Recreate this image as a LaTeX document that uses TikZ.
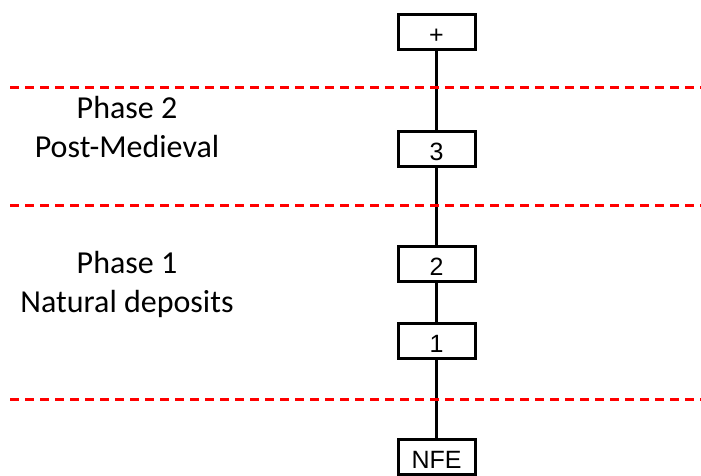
\documentclass[tikz,border=0pt]{standalone}
\usepackage{fontspec}
\setmainfont{Carlito}
\newfontfamily\arialfont{Liberation Sans}
\usepackage{tikz}
\usetikzlibrary{positioning}

\begin{document}
\begin{tikzpicture}[x=1pt,y=-1pt,
  unit/.style={draw,line width=3pt,minimum width=77pt,minimum height=35pt,inner sep=0pt,
    text height=23pt,text depth=0pt,font=\arialfont\fontsize{25}{28}\selectfont},
  link/.style={line width=3pt},
  phase/.style={font=\fontsize{32}{38}\selectfont,anchor=base},
  boundary/.style={red,line width=2.5pt,dash pattern=on 9pt off 6pt}]
\useasboundingbox (0,0) rectangle (701,475);

\node[unit] (top) at (436.5,32) {+};
\node[unit] (u3) at (436.5,148.5) {3};
\node[unit] (u2) at (436.5,264) {2};
\node[unit] (u1) at (436.5,341) {1};
\node[unit] (nfe) at (436.5,457) {NFE};

\draw[link] (top) -- (u3);
\draw[link] (u3) -- (u2);
\draw[link] (u2) -- (u1);
\draw[link] (u1) -- (nfe);

\foreach \y in {87.5,205.5,399.5}
  \draw[boundary] (10,\y) -- (701,\y);

\node[phase] (ph2) at (127,118) {Phase 2};
\node[phase] (ph2name) at (127,157) {Post-Medieval};
\node[phase] (ph1) at (127,273) {Phase 1};
\node[phase] (ph1name) at (127,312) {Natural deposits};

\end{tikzpicture}
\end{document}
